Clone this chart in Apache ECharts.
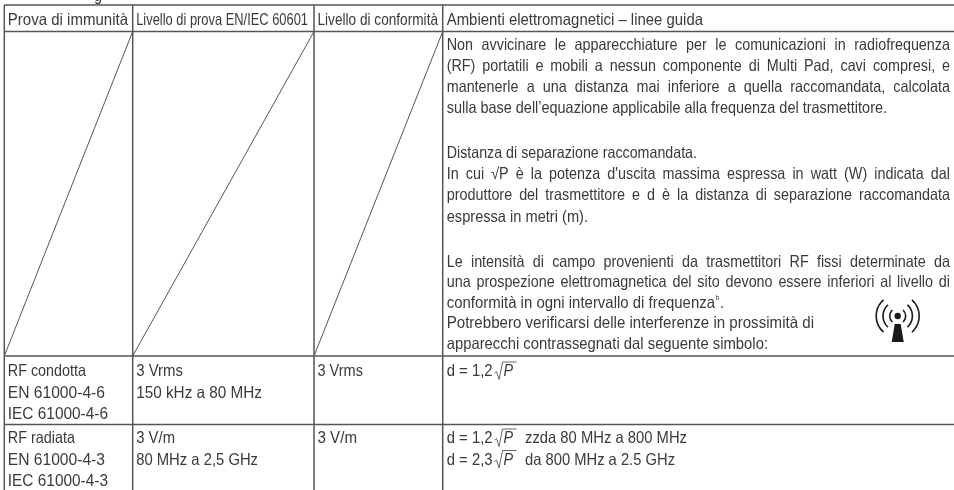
<!DOCTYPE html>
<html><head><meta charset="utf-8">
<style>html,body{margin:0;padding:0;background:#fff}#c{width:954px;height:490px}</style>
<script src="https://cdn.jsdelivr.net/npm/echarts@6/dist/echarts.min.js"></script>
</head><body><div id="c"></div>
<script>
const headers = ["Prova di immunità","Livello di prova EN/IEC 60601","Livello di conformità","Ambienti elettromagnetici – linee guida"];
const justified = [
 ["Non avvicinare le apparecchiature per le comunicazioni in radiofrequenza",45],
 ["(RF) portatili e mobili a nessun componente di Multi Pad, cavi compresi, e",66],
 ["mantenerle a una distanza mai inferiore a quella raccomandata, calcolata",87],
 ["In cui √P è la potenza d'uscita massima espressa in watt (W) indicata dal",174],
 ["produttore del trasmettitore e d è la distanza di separazione raccomandata",195],
 ["Le intensità di campo provenienti da trasmettitori RF fissi determinate da",262],
 ["una prospezione elettromagnetica del sito devono essere inferiori al livello di",282]
];
const plain = [
 ["sulla base dell’equazione applicabile alla frequenza del trasmettitore.",108,887],
 ["Distanza di separazione raccomandata.",153,697],
 ["espressa in metri (m).",217,588],
 ["conformità in ogni intervallo di frequenza",303,715],
 ["Potrebbero verificarsi delle interferenze in prossimità di",323,814],
 ["apparecchi contrassegnati dal seguente simbolo:",344,768]
];
const row1 = [["RF condotta","EN 61000-4-6","IEC 61000-4-6"],["3 Vrms","150 kHz a 80 MHz"],["3 Vrms"]];
const row2 = [["RF radiata","EN 61000-4-3","IEC 61000-4-3"],["3 V/m","80 MHz a 2,5 GHz"],["3 V/m"]];
const row1Ends = [[86,105,108],[183,262],[363]];
const row2Ends = [[75,105,108],[175,258],[357]];
const headerEnds = [128,308,438,703];
const formula1 = ["d = 1,2"];
const formula2 = [["d = 1,2","zzda 80 MHz a 800 MHz",687],["d = 2,3","da 800 MHz a 2.5 GHz",675]];

const colX = [4.3,132.7,314,442.7,954];
const rowY = [5,31.5,356,424.5,490];
const INK = '#3a3a3a', LINE = '#555';
const FONT = '"Liberation Sans", Arial, sans-serif', SIZE = 16.5, SX = 0.87;
const cv = document.createElement('canvas').getContext('2d');
cv.font = SIZE+'px "Liberation Sans"';
const M = s => cv.measureText(s).width;
const els = [];
function txt(s,x,y,extra,sx){
  els.push({type:'text',x,y,scaleX:sx||SX,style:Object.assign({text:s,font:SIZE+'px '+FONT,fill:INK,verticalAlign:'middle',align:'left'},extra||{}),z:2});
}
function fit(s,x0,x1,y){ txt(s,x0,y,null,(x1-x0)/M(s)); }
function just(s,x0,x1,y){
  const w = s.split(' ');
  const tot = w.reduce((a,b)=>a+M(b)*SX,0);
  const gap = (x1-x0-tot)/(w.length-1);
  let x = x0;
  w.forEach(t=>{txt(t,x,y);x+=M(t)*SX+gap;});
}
function ln(x1,y1,x2,y2,lw){
  els.push({type:'line',shape:{x1,y1,x2,y2},style:{stroke:LINE,lineWidth:lw||1.5},z:1});
}
colX.slice(0,4).forEach(x=>ln(x,rowY[0],x,rowY[4]));
rowY.slice(0,4).forEach(y=>ln(colX[0],y,954,y));
for(let i=0;i<3;i++) ln(colX[i],rowY[2],colX[i+1],rowY[1],1);
// clipped line above the table: only a descender shows
txt("g",94,-4);
const starts=[colX[0]+3.5,colX[1]+3.5,colX[2]+3.5,colX[3]+4];
headers.forEach((h,i)=>fit(h,starts[i],headerEnds[i],20));
justified.forEach(g=>just(g[0],starts[3],950,g[1]));
plain.forEach(g=>fit(g[0],starts[3],g[2],g[1]));
txt("b",715.5,298,{font:'8px '+FONT});
txt(".",720,303);
[[row1,row1Ends,371.5],[row2,row2Ends,438.5]].forEach(([r,e,y0])=>{
  r.forEach((c,i)=>c.forEach((t,j)=>fit(t,starts[i],e[i][j],y0+j*21.6)));
});
function formula(x,y,pre,post,end){
  const a=x+M(pre)*0.9+2;
  txt(pre,x,y,null,0.9);
  els.push({type:'polyline',shape:{points:[[a,y+1.5],[a+2,y],[a+4.5,y+8],[a+8,y-9.5],[a+22,y-9.5]]},style:{stroke:LINE,lineWidth:0.9,fill:null},z:2});
  txt("P",a+9,y,{font:'italic '+SIZE+'px '+FONT});
  if(post) fit(post,525,end,y);
}
formula(starts[3],371.5,formula1[0]);
formula(starts[3],438.5,formula2[0][0],formula2[0][1],formula2[0][2]);
formula(starts[3],460,formula2[1][0],formula2[1][1],formula2[1][2]);
// symbol
const sx=897.7, sy=316;
els.push({type:'circle',shape:{cx:sx,cy:sy,r:3.2},style:{fill:'#1a1a1a'},z:2});
els.push({type:'polygon',shape:{points:[[sx-3,sy+8],[sx+3,sy+8],[sx+6,sy+26],[sx-6,sy+26]]},style:{fill:'#1a1a1a'},z:2});
[8,14.7,21.5].forEach(r=>{
  const st=()=>({stroke:'#1a1a1a',fill:null,lineWidth:1.6});
  els.push({type:'arc',style:st(),z:2,shape:{cx:sx,cy:sy,r,startAngle:-0.85,endAngle:0.85}});
  els.push({type:'arc',style:st(),z:2,shape:{cx:sx,cy:sy,r,startAngle:Math.PI-0.85,endAngle:Math.PI+0.85}});
});
const chart=echarts.init(document.getElementById('c'),null,{renderer:'canvas'});
chart.setOption({animation:false,backgroundColor:'#fff',graphic:{elements:els}});
</script></body></html>
